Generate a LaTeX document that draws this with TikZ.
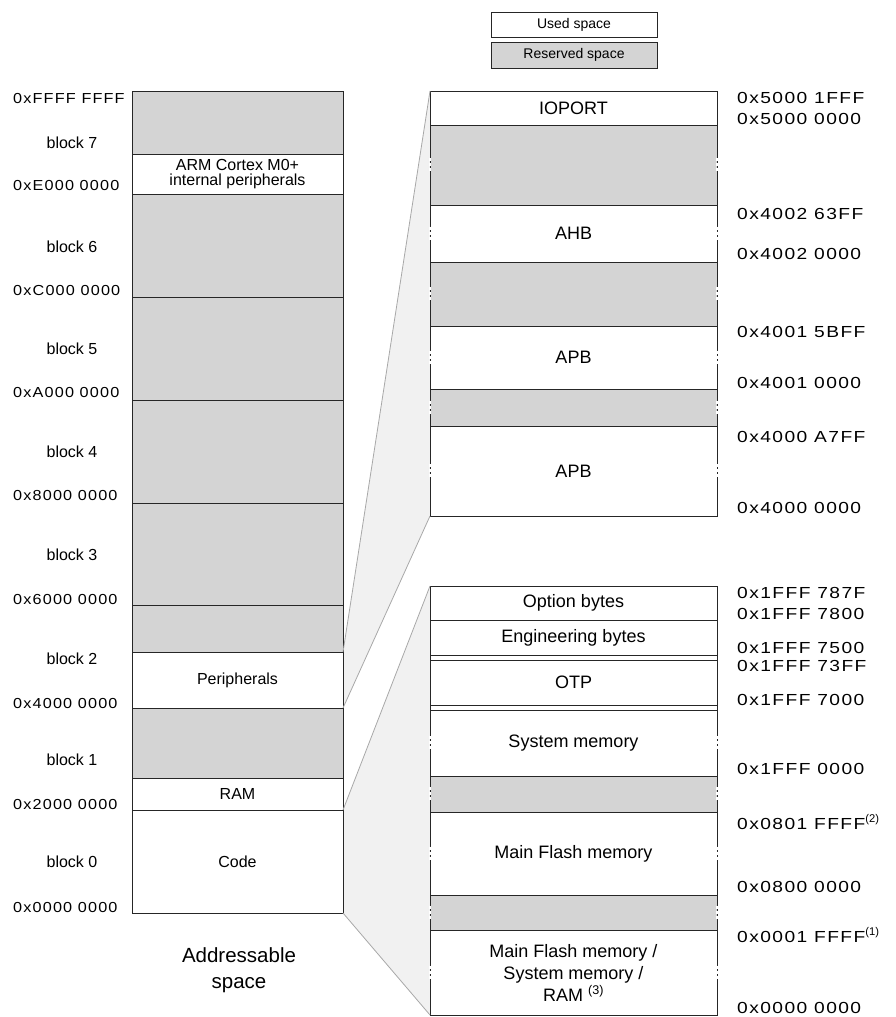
\documentclass[tikz,border=0pt]{standalone}
\usepackage{fontspec}
\setmainfont{Liberation Sans}
\newfontfamily\addrfont[FakeStretch=1.12, LetterSpace=8]{Liberation Sans}
\newfontfamily\addrfontR[FakeStretch=1.2, LetterSpace=9]{Liberation Sans}
\usetikzlibrary{positioning, backgrounds}

\definecolor{resgray}{HTML}{D4D4D4}
\definecolor{fangray}{HTML}{F1F1F1}
\definecolor{fanedge}{HTML}{A8A8A8}

\begin{document}
\begin{tikzpicture}[
    x = 1pt, y = -1pt,
    region/.style = {
      rectangle, draw = black!85, line width = 1pt,
      inner sep = 2pt, outer sep = 0pt, align = center,
      font = \fontsize{16}{15}\selectfont
    },
    leftcol/.style  = {region, minimum width = 211pt},
    rightcol/.style = {region, minimum width = 287pt, font = \fontsize{18}{18}\selectfont},
    used/.style     = {fill = white},
    reserved/.style = {fill = resgray},
    legbox/.style   = {region, minimum width = 166pt, font = \fontsize{14}{14}\selectfont},
    addrL/.style    = {anchor = west, inner sep = 0pt, font = {\addrfont\fontsize{14.5}{14.5}\selectfont}},
    addrR/.style    = {anchor = west, inner sep = 0pt, font = {\addrfontR\fontsize{16}{16}\selectfont}},
    blocklbl/.style = {inner sep = 0pt, font = \fontsize{16}{16}\selectfont},
    brk/.style      = {draw = white, line width = 1.6pt, dash pattern = on 3pt off 2pt},
    fanline/.style  = {draw = fanedge, line width = 0.8pt},
    edge/.style     = {draw = black!85, line width = 1pt}
  ]

  \useasboundingbox (0,0) rectangle (896,1017);

  % Legende
  \node[legbox, used, minimum height = 25pt] (legused) at (574,24.5) {Used space};
  \node[legbox, reserved, minimum height = 26pt] (legres) at (574,55) {Reserved space};

  % Adressraum (links)
  \node[leftcol, reserved, minimum height = 63pt, anchor = north] (blk7res) at (237.5,91) {};
  \node[leftcol, used, minimum height = 40pt, below = 0pt of blk7res] (armperiph) {ARM Cortex M0+\\internal peripherals};
  \node[leftcol, reserved, minimum height = 103pt, below = 0pt of armperiph] (blk6) {};
  \node[leftcol, reserved, minimum height = 103pt, below = 0pt of blk6] (blk5) {};
  \node[leftcol, reserved, minimum height = 103pt, below = 0pt of blk5] (blk4) {};
  \node[leftcol, reserved, minimum height = 102pt, below = 0pt of blk4] (blk3) {};
  \node[leftcol, reserved, minimum height = 47pt, below = 0pt of blk3] (blk2res) {};
  \node[leftcol, used, minimum height = 56pt, below = 0pt of blk2res] (periph) {Peripherals};
  \node[leftcol, reserved, minimum height = 70pt, below = 0pt of periph] (blk1res) {};
  \node[leftcol, used, minimum height = 32pt, below = 0pt of blk1res] (ram) {RAM};
  \node[leftcol, used, minimum height = 103pt, below = 0pt of ram] (code) {Code};

  \node[font = \fontsize{20.5}{26}\selectfont, align = center] (addrspace) at (239,970) {Addressable\\space};

  % Peripherie (rechts oben)
  \node[rightcol, used, minimum height = 34pt, anchor = north] (ioport) at (573.5,91) {IOPORT};
  \node[rightcol, reserved, minimum height = 80pt, below = 0pt of ioport] (res5) {};
  \node[rightcol, used, minimum height = 57pt, below = 0pt of res5] (ahb) {AHB};
  \node[rightcol, reserved, minimum height = 64pt, below = 0pt of ahb] (res4a) {};
  \node[rightcol, used, minimum height = 63pt, below = 0pt of res4a] (apb1) {APB};
  \node[rightcol, reserved, minimum height = 37pt, below = 0pt of apb1] (res4b) {};
  \node[rightcol, used, minimum height = 90pt, below = 0pt of res4b] (apb0) {APB};

  % Code-Bereich (rechts unten)
  \node[rightcol, used, minimum height = 34pt, anchor = north] (optbytes) at (573.5,586) {Option bytes};
  \node[rightcol, used, minimum height = 35pt, below = 0pt of optbytes] (engbytes) {Engineering bytes};
  \node[rightcol, used, minimum height = 45pt, below = 5pt of engbytes] (otp) {OTP};
  \node[rightcol, used, minimum height = 66pt, below = 5pt of otp] (sysmem) {System memory};
  \node[rightcol, reserved, minimum height = 36pt, below = 0pt of sysmem] (res1) {};
  \node[rightcol, used, minimum height = 83pt, below = 0pt of res1] (flash) {Main Flash memory};
  \node[rightcol, reserved, minimum height = 35pt, below = 0pt of flash] (res0) {};
  \node[rightcol, used, minimum height = 85pt, below = 0pt of res0, font = \fontsize{18}{22}\selectfont] (aliased)
    {Main Flash memory /\\System memory /\\RAM \textsuperscript{(3)}};

  \draw[edge] (engbytes.south west) -- (otp.north west);
  \draw[edge] (engbytes.south east) -- (otp.north east);
  \draw[edge] (otp.south west) -- (sysmem.north west);
  \draw[edge] (otp.south east) -- (sysmem.north east);

  % Unterbrechungen
  \foreach \n in {res5, ahb, res4a, apb1, res4b, apb0, sysmem, res1, flash, res0, aliased} {
    \draw[brk] ([yshift = 7pt]\n.west) -- ([yshift = -7pt]\n.west);
    \draw[brk] ([yshift = 7pt]\n.east) -- ([yshift = -7pt]\n.east);
  }

  % Trichter
  \begin{scope}[on background layer]
    \fill[fangray] (periph.north east) -- (ioport.north west) -- (apb0.south west) -- (periph.south east) -- cycle;
    \fill[fangray] (code.north east) -- (optbytes.north west) -- (aliased.south west) -- (code.south east) -- cycle;
  \end{scope}
  \draw[fanline] (periph.north east) -- (ioport.north west);
  \draw[fanline] (periph.south east) -- (apb0.south west);
  \draw[fanline] (code.north east) -- (optbytes.north west);
  \draw[fanline] (code.south east) -- (aliased.south west);

  % Adressen links
  \foreach \ya/\txt [count = \i] in {99/0xFFFF FFFF, 186/0xE000 0000, 291/0xC000 0000,
      393/0xA000 0000, 496/0x8000 0000, 600/0x6000 0000, 703/0x4000 0000,
      804/0x2000 0000, 907/0x0000 0000}
    \node[addrL] (al\i) at (13,\ya) {\txt};

  \foreach \yb/\n in {143/7, 247/6, 349/5, 452/4, 555/3, 659/2, 760/1, 862/0}
    \node[blocklbl] (blklbl\n) at (72,\yb) {block \n};

  % Adressen rechts
  \foreach \ya/\txt [count = \i] in {98/0x5000 1FFF, 119/0x5000 0000, 214/0x4002 63FF,
      254/0x4002 0000, 332/0x4001 5BFF, 383/0x4001 0000, 437/0x4000 A7FF,
      508/0x4000 0000, 593/0x1FFF 787F, 614/0x1FFF 7800, 648/0x1FFF 7500,
      666/0x1FFF 73FF, 700/0x1FFF 7000, 769/0x1FFF 0000,
      822/{0x0801 FFFF\textsuperscript{\rmfamily(2)}}, 887/0x0800 0000,
      935/{0x0001 FFFF\textsuperscript{\rmfamily(1)}}, 1008/0x0000 0000}
    \node[addrR] (ar\i) at (737,\ya) {\txt};

\end{tikzpicture}
\end{document}
